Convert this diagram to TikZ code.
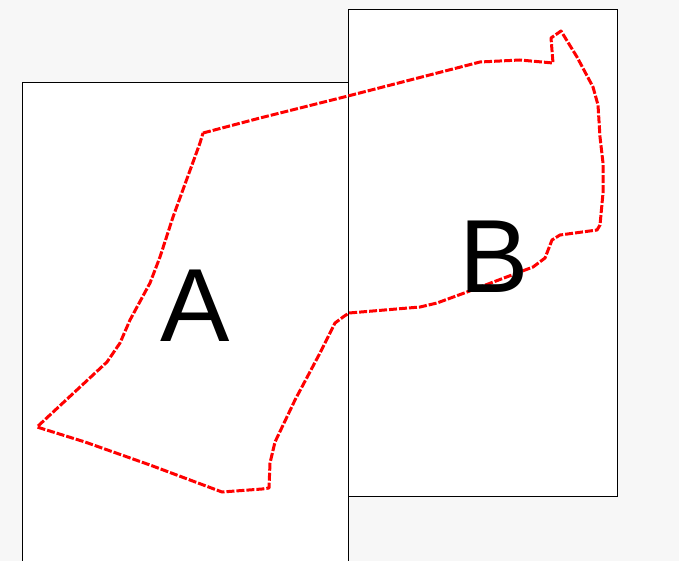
\documentclass[tikz,border=0pt]{standalone}
\usepackage{fontspec}
\setmainfont{Liberation Sans}
\usetikzlibrary{positioning}
\definecolor{pagegray}{HTML}{F7F7F7}

\begin{document}
\begin{tikzpicture}[x=1pt, y=-1pt]
        \tikzset{sheet/.style={draw=black, fill=white, line width=1pt},
                 outline/.style={draw=red, line width=3pt, dash pattern=on 8pt off 2pt, line join=round},
                 tag/.style={font=\fontsize{104}{104}\selectfont, inner sep=0pt}}

        \fill[pagegray] (0,0) rectangle (679,561);
        \useasboundingbox (0,0) rectangle (679,561);

        % the two sheets
        \draw[sheet] (22,563) -- (22,83) -- (348,83) -- (348,563);
        \draw[sheet] (348,10) rectangle (617,496);

        % boundary
        \draw[outline] (203,133) -- (260,118) -- (348,96) -- (480,62) -- (520,60) -- (553,63)
            -- (551,38) -- (561,31) -- (577,57) -- (593,87) -- (598,105) -- (600,137)
            -- (603,163) -- (603,193) -- (600,225) -- (597,230) -- (560,235) -- (552,240)
            -- (545,258) -- (533,267) -- (467,292) -- (437,303) -- (420,307) -- (349,313)
            -- (343,317) -- (335,323) -- (320,353) -- (295,400) -- (275,442) -- (270,463)
            -- (269,488) -- (262,489) -- (222,492) -- (150,465) -- (85,442) -- (37,427)
            -- (107,362) -- (120,343) -- (130,320) -- (150,283) -- (160,257) -- (173,217)
            -- (200,143) -- cycle;

        \node[tag] (a) at (195,306) {A};
        \node[tag] (b) at (494,257) {B};
    \end{tikzpicture}
\end{document}
